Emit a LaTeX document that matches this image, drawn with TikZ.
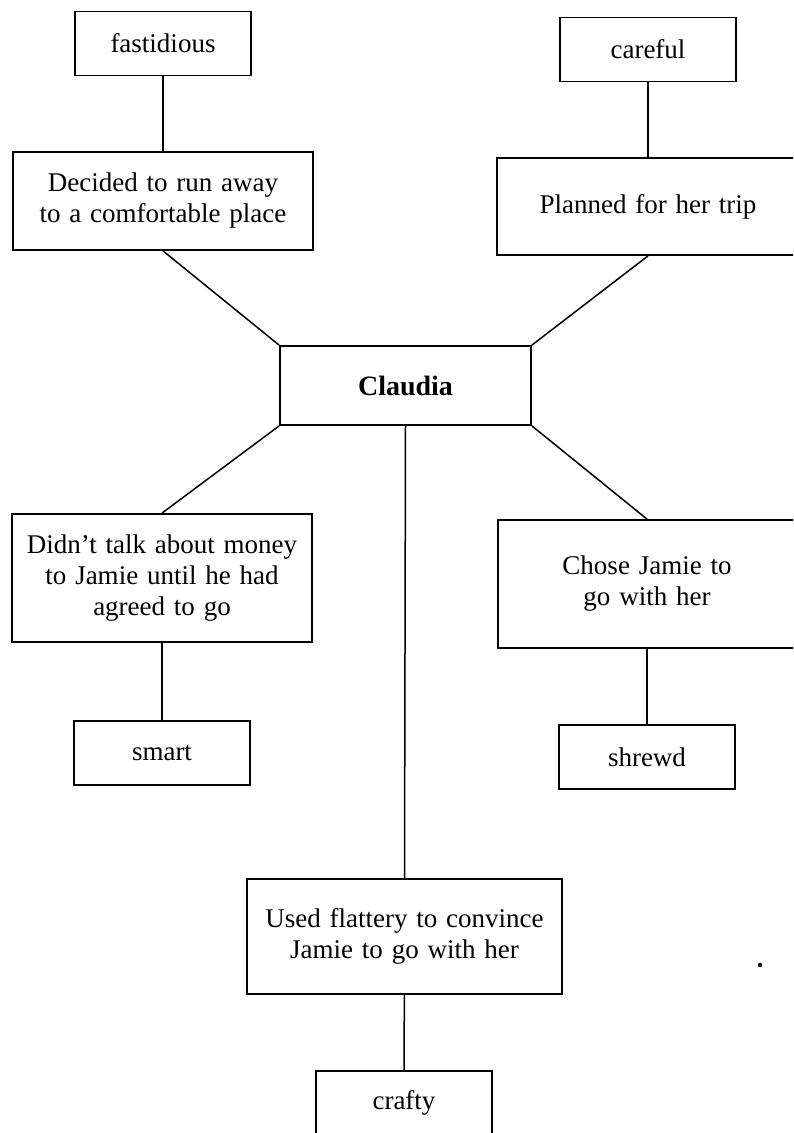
\documentclass[tikz,border=0pt]{standalone}
\usepackage{fontspec}
\setmainfont[WordSpace=1.3]{Liberation Serif}
\tikzstyle{trait}=[draw,line width=1.8pt,minimum width=176pt,minimum height=64pt,inner sep=0pt]
\tikzstyle{deed}=[draw,line width=1.8pt,align=center,inner sep=0pt]
\tikzstyle{link}=[line width=1.5pt]

\begin{document}
\begin{tikzpicture}[x=1pt,y=-1pt,font=\fontsize{27}{31}\selectfont]

   \useasboundingbox (0,0) rectangle (793,1133);
   \clip (0,0) rectangle (793,1133);

    \foreach \pos/\name in {{(163,43.5)/fastidious}, {(648,49.5)/careful}, {(162,753)/smart}, {(647,757)/shrewd}, {(404,1103)/crafty}}
        \node[trait] (\name) at \pos {\name};

  \node[deed,minimum width=300pt,minimum height=98pt] (decided) at (163,201) {Decided to run away\\to a comfortable place};
  \node[deed,minimum width=302pt,minimum height=97pt] (planned) at (648,206.5) {Planned for her trip};
  \node[deed,minimum width=251pt,minimum height=79pt,font=\fontsize{28}{31}\selectfont\bfseries] (claudia) at (405.5,385.5) {Claudia};
  \node[deed,minimum width=300pt,minimum height=128pt] (didnt) at (162,578) {Didn't talk about money\\to Jamie until he had\\agreed to go};
  \node[deed,minimum width=298pt,minimum height=128pt] (chose) at (647,584) {Chose Jamie to\\go with her};
  \node[deed,minimum width=315pt,minimum height=115pt] (flattery) at (404.5,936.5) {Used flattery to convince\\Jamie to go with her};

    \foreach \source/\dest in {fastidious/decided, careful/planned, decided.south/claudia.north west, planned.south/claudia.north east, claudia.south west/didnt.north, claudia.south east/chose.north, claudia.south/flattery.north, didnt/smart, chose/shrewd, flattery/crafty}
                \draw[link] (\source) -- (\dest);

% speck near the flattery box
  \fill (760,965) circle (2.2pt);

\end{tikzpicture}
\end{document}
